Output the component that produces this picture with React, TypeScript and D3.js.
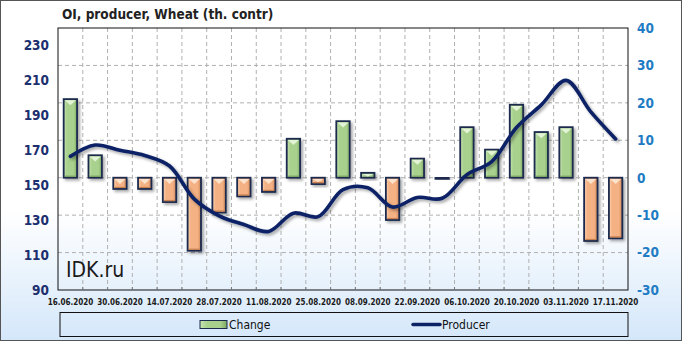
import React from "react";
import * as d3 from "d3";

const categories = [
  "16.06.2020", "23.06.2020", "30.06.2020", "07.07.2020", "14.07.2020", "21.07.2020",
  "28.07.2020", "04.08.2020", "11.08.2020", "18.08.2020", "25.08.2020", "01.09.2020",
  "08.09.2020", "15.09.2020", "22.09.2020", "29.09.2020", "06.10.2020", "13.10.2020",
  "20.10.2020", "27.10.2020", "03.11.2020", "10.11.2020", "17.11.2020",
];
const change = [21, 6, -3, -3, -6.5, -19.5, -9.3, -5, -3.8, 10.4, -1.7, 15.1, 1.3, -11.3, 5.1, -0.3, 13.5, 7.5, 19.5, 12.2, 13.5, -16.9, -16.2];
const producer = [166.5, 173, 170, 167, 161, 142, 132.5, 127.5, 123.5, 134, 132, 147.5, 148.5, 137.5, 143, 142.5, 156, 163.5, 183, 196, 210, 192, 176.5];
const leftTicks = [90, 110, 130, 150, 170, 190, 210, 230];
const rightTicks = [-30, -20, -10, 0, 10, 20, 30, 40];
const title = "OI, producer, Wheat (th. contr)";
const legendChange = "Change";
const legendProducer = "Producer";
const watermark = "IDK.ru";

const W = 682, H = 341;
const PL = 58, PR = 628, PT = 28, PB = 290;
const FONT = "'DejaVu Sans Condensed', 'DejaVu Sans', sans-serif";

export default function App() {
  const x = d3.scaleBand<string>().domain(categories).range([PL, PR]).padding(0);
  const bw = x.bandwidth();
  const barW = bw * 0.54;
  const yR = d3.scaleLinear().domain([-30, 40]).range([PB, PT]);
  const yL = d3.scaleLinear().domain([90, 240]).range([PB, PT]);
  const cx = (i: number) => (x(categories[i]) as number) + bw / 2;

  const line = d3
    .line<number>()
    .x((_, i) => cx(i))
    .y((d) => yL(d))
    .curve(d3.curveCatmullRom.alpha(0.5));

  const labelIdx = categories.map((_, i) => i).filter((i) => i % 2 === 0);

  return (
    <svg width={W} height={H} style={{ position: "absolute", left: 0, top: 0 }} xmlns="http://www.w3.org/2000/svg">
      <defs>
        <linearGradient id="bg" x1="0" y1="0" x2="0" y2="1">
          <stop offset="0" stopColor="#ffffff" />
          <stop offset="0.62" stopColor="#ffffff" />
          <stop offset="1" stopColor="#d4e7fa" />
        </linearGradient>
        <linearGradient id="gG" x1="0" y1="0" x2="1" y2="0">
          <stop offset="0" stopColor="#c9e5b5" />
          <stop offset="0.25" stopColor="#a9d18e" />
          <stop offset="0.75" stopColor="#a9d18e" />
          <stop offset="1" stopColor="#7ea962" />
        </linearGradient>
        <linearGradient id="gO" x1="0" y1="0" x2="1" y2="0">
          <stop offset="0" stopColor="#fbd2b3" />
          <stop offset="0.25" stopColor="#f4b183" />
          <stop offset="0.75" stopColor="#f4b183" />
          <stop offset="1" stopColor="#cf8656" />
        </linearGradient>
        <filter id="sh" x="-50%" y="-50%" width="200%" height="200%">
          <feDropShadow dx="2" dy="2" stdDeviation="1.5" floodColor="#000" floodOpacity="0.35" />
        </filter>
      </defs>
      <rect x={0.5} y={0.5} width={W - 1} height={H - 1} fill="url(#bg)" stroke="#555" strokeWidth={1} />

      <text x={62} y={19} fontFamily={FONT} fontWeight="bold" fontSize={13.5} fill="#222">{title}</text>

      {/* grid */}
      {categories.slice(1).map((c, i) => (
        <line key={"vg" + i} x1={x(c)} x2={x(c)} y1={PT} y2={PB} stroke="#b0b0b0" strokeDasharray="4,3" strokeWidth={1} />
      ))}
      {rightTicks.slice(1, -1).map((t) => (
        <line key={"hg" + t} x1={PL} x2={PR} y1={yR(t)} y2={yR(t)} stroke="#b0b0b0" strokeDasharray="4,3" strokeWidth={1} />
      ))}

      {/* bars */}
      {change.map((v, i) => {
        const bx = cx(i) - barW / 2;
        const y0 = yR(0), y1 = yR(v);
        const top = Math.min(y0, y1);
        const h = Math.max(Math.abs(y1 - y0), 1);
        const pos = v >= 0;
        const tri = Math.min(5, h / 2);
        return (
          <g key={"b" + i}>
            <rect x={bx} y={top} width={barW} height={h} fill={pos ? "url(#gG)" : "url(#gO)"} stroke="#1b2a4e" strokeWidth={1.8} filter="url(#sh)" />
            {h > 3 && (
              <path
                d={`M${bx + 1.2},${top + 1.2}L${bx + barW - 1.2},${top + 1.2}L${bx + barW / 2},${top + 1.2 + tri}Z`}
                fill={pos ? "#e3f3d6" : "#fde2cc"}
              />
            )}
            {h > 6 && (
              <line x1={bx + 1.2} x2={bx + barW - 1.2} y1={top + h - 1.5} y2={top + h - 1.5} stroke={pos ? "#79a35d" : "#c98050"} strokeWidth={1.2} />
            )}
          </g>
        );
      })}

      {/* line */}
      <path d={line(producer) || ""} fill="none" stroke="#0c2466" strokeWidth={3.6} strokeLinecap="round" filter="url(#sh)" />

      {/* plot border */}
      <rect x={PL} y={PT} width={PR - PL} height={PB - PT} fill="none" stroke="#111" strokeWidth={1} />
      {categories.slice(1).map((c, i) => (
        <line key={"tk" + i} x1={x(c)} x2={x(c)} y1={PB} y2={PB - 3} stroke="#777" strokeWidth={1} />
      ))}

      {/* left axis */}
      {leftTicks.map((t) => (
        <text key={"l" + t} x={49} y={yL(t)} dy="0.36em" textAnchor="end" fontFamily={FONT} fontWeight="bold" fontSize={13.5} fill="#1c2f6e">{t}</text>
      ))}
      {/* right axis */}
      {rightTicks.map((t) => (
        <text key={"r" + t} x={637} y={yR(t)} dy="0.36em" textAnchor="start" fontFamily={FONT} fontWeight="bold" fontSize={13.5} fill="#1f7cc4">{t}</text>
      ))}
      {/* x labels */}
      {labelIdx.map((i) => (
        <text key={"x" + i} x={cx(i)} y={304.5} textAnchor="middle" fontFamily={FONT} fontWeight="bold" fontSize={8} fill="#1a1a1a">{categories[i]}</text>
      ))}

      <text x={66} y={277} fontFamily={FONT} fontSize={21} fill="#1a1a1a">{watermark}</text>

      {/* legend */}
      <rect x={60} y={312.5} width={568} height={24} fill="none" stroke="#111" strokeWidth={1} />
      <rect x={200} y={320.5} width={27} height={8} fill="url(#gG)" stroke="#1b2a4e" strokeWidth={1} />
      <text x={229} y={324.5} dy="0.36em" fontFamily={FONT} fontSize={12} fill="#111">{legendChange}</text>
      <line x1={413} x2={440} y1={324.5} y2={324.5} stroke="#0c2466" strokeWidth={3.5} strokeLinecap="round" />
      <text x={442} y={324.5} dy="0.36em" fontFamily={FONT} fontSize={12} fill="#111">{legendProducer}</text>
    </svg>
  );
}
